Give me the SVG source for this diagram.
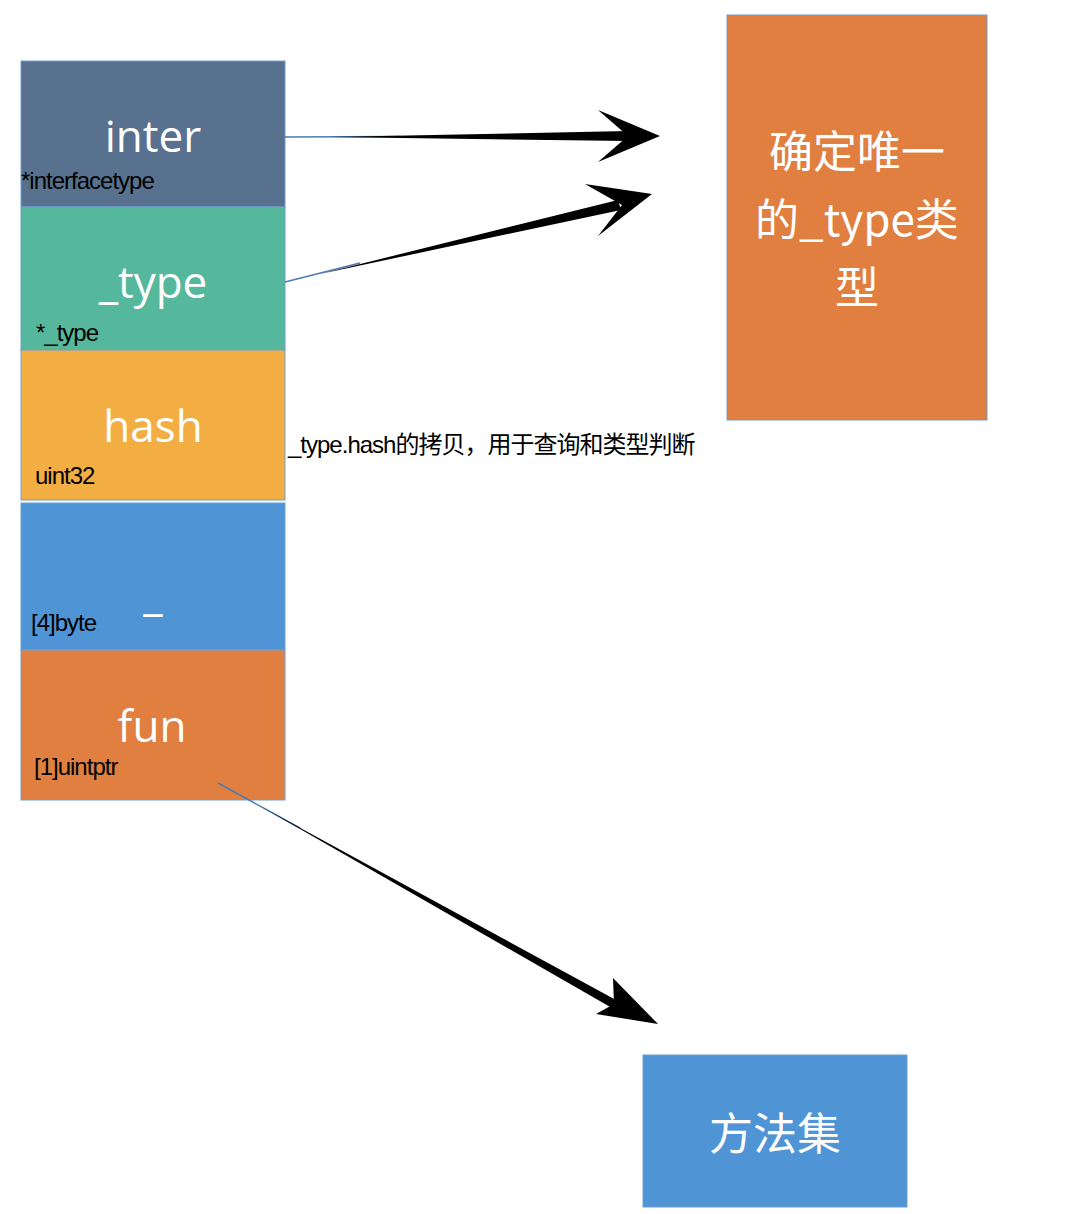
<svg xmlns="http://www.w3.org/2000/svg" width="1068" height="1214" viewBox="0 0 1068 1214">
<style>
.box{stroke:#6f9fd0;stroke-width:1}
.big{font-family:"Open Sans","Noto Sans CJK SC",sans-serif;fill:#fff;font-size:44px;text-anchor:middle}
.small{font-family:"Liberation Sans","Noto Sans CJK SC",sans-serif;fill:#000;font-size:24px;letter-spacing:-1px}
.cn{font-family:"Noto Sans CJK SC",sans-serif;fill:#fff;font-size:44px;text-anchor:middle}
</style>
<rect width="1068" height="1214" fill="#fff"/>
<g id="inter"><rect class="box" x="21" y="61" width="264" height="146" fill="#57718e"/><text class="big" x="153" y="152">inter</text><text class="small" x="21" y="189">*interfacetype</text></g>
<g id="type"><rect class="box" x="21" y="207" width="264" height="143" fill="#55b89c"/><text class="big" x="153" y="298">_type</text><text class="small" x="36" y="341">*_type</text></g>
<g id="hash"><rect class="box" x="21" y="350" width="264" height="150" fill="#f2ae42"/><text class="big" x="153" y="442">hash</text><text class="small" x="35" y="484">uint32</text></g>
<g id="pad"><rect class="box" x="21" y="503" width="264" height="147" fill="#4f94d4"/><text class="big" x="153" y="610">_</text><text class="small" x="31" y="631">[4]byte</text></g>
<g id="fun"><rect class="box" x="21" y="650" width="264" height="150" fill="#e07f40"/><text class="big" x="152" y="742">fun</text><text class="small" x="34" y="775">[1]uintptr</text></g>
<g id="unique"><rect class="box" x="727" y="15" width="260" height="405" fill="#e07f40"/><text class="cn" x="857" y="168">确定唯一</text><text class="cn" x="857" y="236">的_type类</text><text class="cn" x="857" y="304">型</text></g>
<g id="methods"><rect class="box" x="643" y="1055" width="264" height="152" fill="#4f94d4"/><text class="cn" x="775" y="1150">方法集</text></g>
<g id="note"><text class="small" x="288" y="453">_type.hash的拷贝，用于查询和类型判断</text></g>
<g id="connectors">
<line x1="285" y1="137" x2="400" y2="136.5" stroke="#4a7bb0" stroke-width="1.5"/>
<polygon points="330,137 628,131 628,141" fill="#000"/>
<polygon points="660,136 598,110 628,136 598,162" fill="#000"/>
<line x1="285" y1="282" x2="360" y2="263" stroke="#4a7bb0" stroke-width="1.5"/>
<polygon points="320,274 618,200 621,210" fill="#000"/>
<polygon points="652,194 585,184 622,205 598,236" fill="#000"/>
<line x1="218" y1="783" x2="300" y2="828" stroke="#4a7bb0" stroke-width="1.5"/>
<polygon points="260,806 616,1000 612,1008" fill="#000"/>
<polygon points="658,1024 613,978 614,1004 596,1014" fill="#000"/>
</g>
</svg>
